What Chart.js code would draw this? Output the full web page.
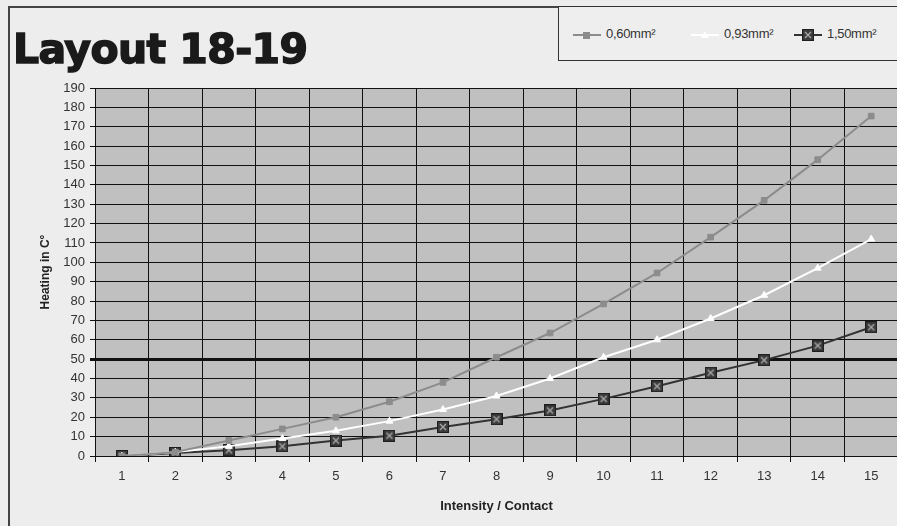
<!DOCTYPE html>
<html>
<head>
<meta charset="utf-8">
<script src="https://cdn.jsdelivr.net/npm/chart.js@4/dist/chart.umd.min.js"></script>
<style>
  html, body { margin: 0; padding: 0; width: 897px; height: 526px; overflow: hidden; background: #ededed; }
  #frame { position: absolute; left: 8px; top: 6px; width: 900px; height: 530px; border-left: 2px solid #444; border-top: 2px solid #444; }
  #wrap { position: absolute; left: 0; top: 0; width: 905px; height: 526px; }
  #title { position: absolute; left: 13px; top: 25px; font: bold 41px "DejaVu Sans", sans-serif; color: #1a1a1a; letter-spacing: -0.6px; -webkit-text-stroke: 1.5px #1a1a1a; }
  #legend { position: absolute; left: 558px; top: 6px; width: 360px; height: 55px; border: 1px solid #333; box-sizing: border-box; background: #eeeeee; }
  .item { position: absolute; top: 19px; font: 13px "Liberation Sans", Arial, sans-serif; color: #333; white-space: nowrap; letter-spacing: -0.3px; }
  .item canvas { vertical-align: middle; margin-right: 3px; }
</style>
</head>
<body>
<div id="frame"></div>
<div id="wrap"><canvas id="chart" width="905" height="526"></canvas></div>
<div id="title">Layout 18-19</div>
<div id="legend"></div>
<script>
const categories = ['1', '2', '3', '4', '5', '6', '7', '8', '9', '10', '11', '12', '13', '14', '15'];
const labels = ['0,60mm²', '0,93mm²', '1,50mm²'];
const s060 = [0, 2, 8, 14, 20, 28, 38, 51, 63.5, 78.5, 94.5, 113, 132, 153, 175.5];
const s093 = [0, 2, 5, 9, 13, 18, 24, 31, 40, 51, 60, 71, 83, 97, 112];
const s150 = [0, 1.5, 3, 5, 8, 10.5, 15, 19, 23.5, 29.5, 36, 43, 49.5, 57, 66.5];
const yTicks = { min: 0, max: 190, step: 10 };

function boxX(size) {
    const c = document.createElement('canvas');
    c.width = c.height = size;
    const g = c.getContext('2d');
    g.fillStyle = '#3c3c3c';
    g.fillRect(0, 0, size, size);
    g.strokeStyle = '#1e1e1e';
    g.strokeRect(0.5, 0.5, size - 1, size - 1);
    g.strokeStyle = '#a8a8a8';
    g.lineWidth = 1.4;
    g.beginPath();
    g.moveTo(3, 3); g.lineTo(size - 3, size - 3);
    g.moveTo(size - 3, 3); g.lineTo(3, size - 3);
    g.stroke();
    return c;
}
const markX = boxX(12);

const series = [
    { label: labels[0], data: s060, borderColor: '#8c8c8c', backgroundColor: '#8c8c8c', pointStyle: 'rect', pointRadius: 4 },
    { label: labels[1], data: s093, borderColor: '#ffffff', backgroundColor: '#ffffff', pointStyle: 'triangle', pointRadius: 4 },
    { label: labels[2], data: s150, borderColor: '#333333', backgroundColor: '#333333', pointStyle: markX, pointRadius: 6 },
];

const plotBg = {
    id: 'plotBg',
    beforeDraw(chart) {
        const { ctx, chartArea: a } = chart;
        ctx.save();
        ctx.fillStyle = '#c0c0c0';
        ctx.fillRect(a.left, a.top, a.right - a.left, a.bottom - a.top);
        ctx.restore();
    },
};

const tickFont = { family: 'Liberation Sans', size: 13 };

new Chart(document.getElementById('chart'), {
    type: 'line',
    data: {
        labels: categories,
        datasets: series.map((s) => ({ ...s, borderWidth: 2, tension: 0, pointBorderWidth: 1, pointHoverRadius: s.pointRadius })),
    },
    options: {
        responsive: false,
        animation: false,
        events: [],
        layout: { padding: { left: 0, right: 4, top: 88, bottom: 0 } },
        plugins: { legend: { display: false }, tooltip: { enabled: false } },
        scales: {
            x: {
                offset: true,
                afterFit: (s) => { s.height = 70; },
                grid: { offset: true, color: '#111', lineWidth: 1, tickLength: 6 },
                border: { color: '#111', width: 1 },
                ticks: { color: '#333', font: tickFont, padding: 7 },
                title: { display: true, text: 'Intensity / Contact', color: '#222', font: { family: 'Liberation Sans', size: 13, weight: 'bold' }, padding: { top: 0, bottom: 12 } },
            },
            y: {
                min: yTicks.min,
                max: yTicks.max,
                afterFit: (s) => { s.width = 95; },
                grid: { color: '#111', lineWidth: (c) => (c.tick && c.tick.value === 50 ? 3 : 1), tickLength: 5 },
                border: { color: '#111', width: 1 },
                ticks: { stepSize: yTicks.step, color: '#333', font: tickFont, padding: 5 },
                title: { display: true, text: 'Heating in C°', color: '#222', font: { family: 'Liberation Sans', size: 12, weight: 'bold' }, padding: { top: 38, bottom: 0 } },
            },
        },
    },
    plugins: [plotBg],
});

// legend built from the same series
const legend = document.getElementById('legend');
const itemX = [12, 130, 233];
series.forEach((s, i) => {
    const div = document.createElement('div');
    div.className = 'item';
    div.style.left = itemX[i] + 'px';
    const c = document.createElement('canvas');
    c.width = 32; c.height = 14;
    const g = c.getContext('2d');
    g.strokeStyle = s.borderColor;
    g.lineWidth = 2;
    g.beginPath(); g.moveTo(2, 7); g.lineTo(30, 7); g.stroke();
    if (s.pointStyle === 'rect') {
        g.fillStyle = s.backgroundColor; g.fillRect(12, 4, 7, 7);
    } else if (s.pointStyle === 'triangle') {
        g.fillStyle = s.backgroundColor;
        g.beginPath(); g.moveTo(16, 3); g.lineTo(20, 10); g.lineTo(12, 10); g.closePath(); g.fill();
    } else {
        g.drawImage(s.pointStyle, 10, 1);
    }
    div.appendChild(c);
    div.appendChild(document.createTextNode(s.label));
    legend.appendChild(div);
});
</script>
</body>
</html>
